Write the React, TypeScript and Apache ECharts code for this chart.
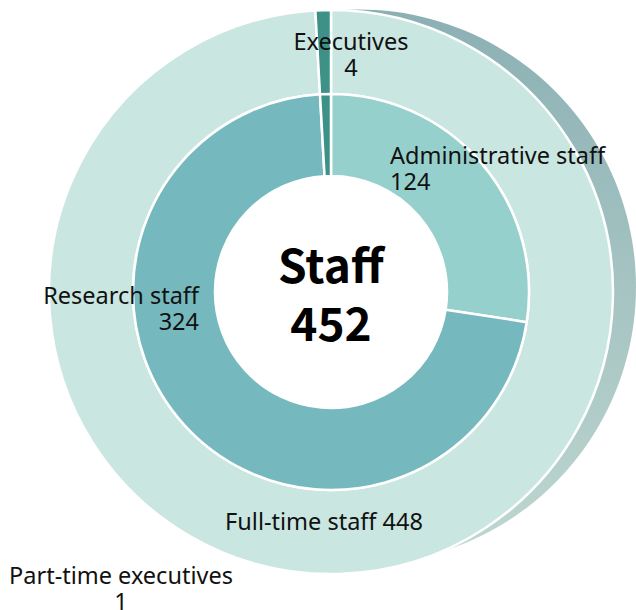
import React, { useEffect, useRef } from "react";
import * as echarts from "echarts";

// ---- data ----
const innerNames = ["Administrative staff", "Research staff", "Executives"];
const innerValues = [124, 324, 4];
const outerNames = ["Full-time staff", "Executives"];
const outerValues = [448, 4];
const centerTitle = "Staff";
const centerValue = 452;
const noteName = "Part-time executives";
const noteValue = 1;

// ---- styles / layout ----
const innerColors = ["#96d0cc", "#75b9be", "#3e9186"];
const outerColors = ["#cae6e1", "#3e9186"];
const CX = 331;
const CY = 292;
const FONT = "'Noto Sans', sans-serif";
const BOLD_FONT = "'Noto Sans CJK JP', 'Noto Sans', sans-serif";

export default function App() {
  const ref = useRef<HTMLDivElement>(null);
  useEffect(() => {
    if (!ref.current) return;
    const chart = echarts.init(ref.current, null, { renderer: "svg" });
    const lab = (text: string, x: number, y: number, align: string, size = 23.5) => ({
      type: "text",
      x,
      y,
      z: 100,
      style: {
        text,
        fill: "#111",
        font: `${size}px ${FONT}`,
        align,
        verticalAlign: "top",
        lineHeight: 26,
      },
    });
    chart.setOption({
      animation: false,
      graphic: [
        {
          type: "circle",
          z: 0,
          shape: { cx: CX + 27.5, cy: CY - 5, r: 277.5 },
          style: {
            fill: new echarts.graphic.LinearGradient(0, 0, 0, 1, [
              { offset: 0, color: "#8bb0b4" },
              { offset: 1, color: "#bfd7d0" },
            ]),
          },
        },
        {
          type: "circle",
          z: 1,
          shape: { cx: CX, cy: CY, r: 200 },
          style: { fill: "#fff" },
        },
        lab(`${innerNames[2]}\n${innerValues[2]}`, 351, 28, "center"),
        lab(`${innerNames[0]}\n${innerValues[0]}`, 390, 142, "left"),
        lab(`${innerNames[1]}\n${innerValues[1]}`, 199, 282, "right"),
        lab(`${outerNames[0]} ${outerValues[0]}`, 324, 508, "center"),
        lab(`${noteName}\n${noteValue}`, 121, 562, "center"),
        {
          type: "text",
          x: CX,
          y: CY,
          z: 100,
          style: {
            text: `${centerTitle}\n${centerValue}`,
            fill: "#000",
            font: `bold 46px ${BOLD_FONT}`,
            align: "center",
            verticalAlign: "middle",
            lineHeight: 58,
          },
        },
      ],
      series: [
        {
          type: "pie",
          z: 2,
          center: [CX, CY],
          radius: [198, 282],
          startAngle: 90,
          clockwise: true,
          label: { show: false },
          labelLine: { show: false },
          emphasis: { disabled: true },
          itemStyle: { borderColor: "#fff", borderWidth: 2.5 },
          data: outerValues.map((v, i) => ({
            name: outerNames[i],
            value: v,
            itemStyle: { color: outerColors[i] },
          })),
        },
        {
          type: "pie",
          z: 3,
          center: [CX, CY],
          radius: [116, 198],
          startAngle: 90,
          clockwise: true,
          label: { show: false },
          labelLine: { show: false },
          emphasis: { disabled: true },
          itemStyle: { borderColor: "#fff", borderWidth: 2.5 },
          data: innerValues.map((v, i) => ({
            name: innerNames[i],
            value: v,
            itemStyle: { color: innerColors[i] },
          })),
        },
      ],
    });
    return () => chart.dispose();
  }, []);
  return (
    <div
      ref={ref}
      style={{ position: "fixed", left: 0, top: 0, width: 636, height: 610, background: "#fff" }}
    />
  );
}
